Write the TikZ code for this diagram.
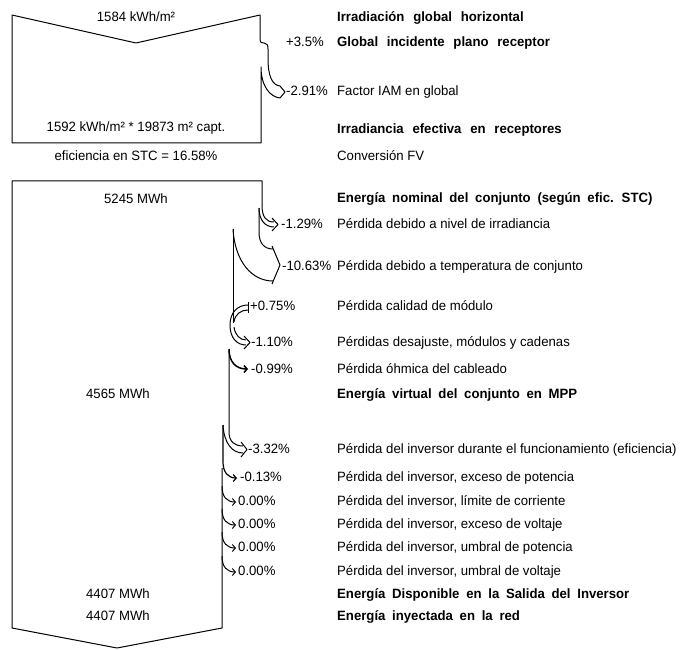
\documentclass[tikz,border=0pt]{standalone}
\usepackage{fontspec}
\setmainfont{Liberation Sans}[FakeStretch=0.975]
\usetikzlibrary{arrows.meta}

\newcommand\widebold{\bfseries\spaceskip=0.65em plus 0.1em\relax}
\newcommand\midbold{\bfseries\spaceskip=0.5em plus 0.1em\relax}

\tikzset{
  flow/.style={line width=1pt, line join=round},
  barb/.style={flow, -{Straight Barb[length=3pt,width=7pt]}},
  val/.style={font=\fontsize{13.5}{15}\selectfont, inner sep=0pt,
    text height=9.5pt, text depth=2.5pt},
  pct/.style={val, anchor=west},
  desc/.style={val, anchor=west},
  descb/.style={desc, font={\fontsize{13.5}{15}\selectfont\midbold}},
  descw/.style={desc, font={\fontsize{13.5}{15}\selectfont\widebold}},
}

\begin{document}
\begin{tikzpicture}[x=1pt,y=-1pt]
  \useasboundingbox (0,0) rectangle (691,650);

  % Irradiation block (gain +3.5%, IAM loss)
  \draw[flow] (12,15) -- (136,43) -- (260,15) -- (260,39)
    .. controls (260,43) and (262,43) .. (264,43)
    .. controls (267,43) and (268,45) .. (268,49) -- (268,58)
    .. controls (268,76) and (272,85) .. (280,86) -- (285,92) -- (280,98)
    .. controls (270,97) and (261,86) .. (261,67) -- (261,143)
    -- (12,143) -- cycle;

  % Energy block outline
  \draw[flow] (262,205) -- (262,181) -- (12,181) -- (12,628)
    -- (117,648) -- (222,628) -- (222,468);

  % -1.29%
  \draw[flow] (262,205) .. controls (262,217) and (266,222) .. (274,222);
  \draw[flow] (259,208) .. controls (259,220) and (265,227) .. (274,227);
  \draw[flow] (272,218) -- (278,224.5) -- (272,231);

  % -10.63%
  \draw[flow] (259,208) -- (259,232) .. controls (259,243) and (264,249) .. (273,249);
  \draw[flow] (233,229) .. controls (235,262) and (252,281) .. (273,281);
  \draw[flow] (272,246) -- (280,265) -- (272,284);
  \draw[flow] (233,229) -- (233,323);

  % +0.75% (gain) and -1.10%
  \draw[flow] (230,325) .. controls (230,312) and (238,305) .. (248,305);
  \draw[flow] (234,322) .. controls (235,314) and (241,310) .. (248,310);
  \draw[flow] (248,302) -- (248,313);
  \draw[flow] (234,327) .. controls (235,335) and (240,340) .. (246,340);
  \draw[flow] (230,325) .. controls (230,338) and (237,345) .. (246,345);
  \draw[flow] (244,336) -- (250,342.5) -- (244,349);

  % -0.99%
  \draw[barb, line width=1.5pt] (229,349) .. controls (229,362) and (236,369) .. (248,369);

  % -3.32%
  \draw[flow] (229,350) -- (229,432) .. controls (229,442) and (235,446) .. (243,446);
  \draw[flow] (223,425) .. controls (224,443) and (232,453) .. (243,453);
  \draw[flow] (241,442) -- (247,449.5) -- (241,457);

  % -0.13%
  \draw[barb, line width=1.2pt] (223,425) -- (223,462) .. controls (223,472) and (228,478) .. (237,478);

  % values in the blocks
  \node[val] (vGlob) at (136,18) {1584 kWh/m²};
  \node[val] (vEff) at (136,128) {1592 kWh/m² * 19873 m² capt.};
  \node[val] (vStc) at (136,157) {eficiencia en STC = 16.58\%};
  \node[val] (vNom) at (136,200) {5245 MWh};
  \node[val] (vMpp) at (118,395) {4565 MWh};
  \node[val] (vAvail) at (118,595) {4407 MWh};
  \node[val] (vGrid) at (118,617) {4407 MWh};

  % percentages
  \node[pct] (pGi) at (286,43) {+3.5\%};
  \node[pct] (pIam) at (286,92) {-2.91\%};
  \node[pct] (pIrr) at (281,225) {-1.29\%};
  \node[pct] (pTemp) at (282,267) {-10.63\%};
  \node[pct] (pQual) at (250,307) {+0.75\%};
  \node[pct] (pMis) at (251,343) {-1.10\%};
  \node[pct] (pOhm) at (251,370) {-0.99\%};
  \node[pct] (pInv) at (248,450) {-3.32\%};
  \node[pct] (pOvp) at (240,478) {-0.13\%};

  % descriptions
  \node[descw] (dGlob) at (337,18) {Irradiación global horizontal};
  \node[descw] (dGi) at (337,43) {Global incidente plano receptor};
  \node[desc] (dIam) at (337,92) {Factor IAM en global};
  \node[descw] (dEff) at (337,130) {Irradiancia efectiva en receptores};
  \node[desc] (dConv) at (337,157) {Conversión FV};
  \node[descb] (dNom) at (337,199) {Energía nominal del conjunto (según efic. STC)};
  \node[desc] (dIrr) at (337,225) {Pérdida debido a nivel de irradiancia};
  \node[desc] (dTemp) at (337,267) {Pérdida debido a temperatura de conjunto};
  \node[desc] (dQual) at (337,307) {Pérdida calidad de módulo};
  \node[desc] (dMis) at (337,343) {Pérdidas desajuste, módulos y cadenas};
  \node[desc] (dOhm) at (337,370) {Pérdida óhmica del cableado};
  \node[descb] (dMpp) at (337,395) {Energía virtual del conjunto en MPP};
  \node[desc] (dInv) at (337,450) {Pérdida del inversor durante el funcionamiento (eficiencia)};
  \node[desc] (dOvp) at (337,478) {Pérdida del inversor, exceso de potencia};

  % inverter losses of 0.00%
  \foreach \y/\what [count=\i] in {502/límite de corriente, 525/exceso de voltaje,
      548/umbral de potencia, 572/umbral de voltaje} {
    \draw[barb] (222,{\y-16}) .. controls (222,{\y-5}) and (227,\y) .. (236,\y);
    \node[pct] (pZero\i) at (238,\y) {0.00\%};
    \node[desc] (dZero\i) at (337,\y) {Pérdida del inversor, \what};
  }

  \node[descb] (dAvail) at (337,595) {Energía Disponible en la Salida del Inversor};
  \node[descb] (dGrid) at (337,617) {Energía inyectada en la red};
\end{tikzpicture}
\end{document}
